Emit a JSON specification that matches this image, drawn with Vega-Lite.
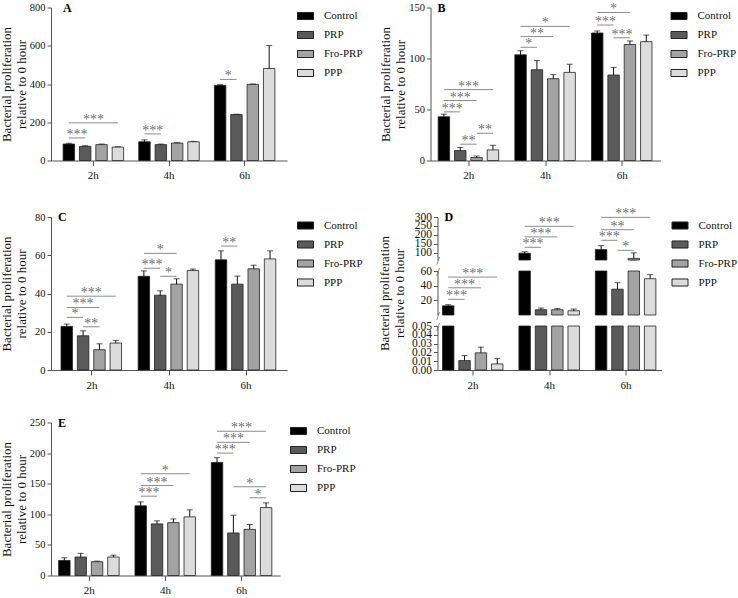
{
  "$schema": "https://vega.github.io/schema/vega-lite/v6.json",
  "padding": {"left": 0, "top": 1.5, "right": 0, "bottom": 0},
  "datasets": {
    "bars": [
      {"panel": "A", "time": "2h", "group": "Control", "value": 86, "err": 4},
      {"panel": "A", "time": "2h", "group": "PRP", "value": 74, "err": 3},
      {"panel": "A", "time": "2h", "group": "Fro-PRP", "value": 83, "err": 3},
      {"panel": "A", "time": "2h", "group": "PPP", "value": 70, "err": 1.5},
      {"panel": "A", "time": "4h", "group": "Control", "value": 98, "err": 10},
      {"panel": "A", "time": "4h", "group": "PRP", "value": 83, "err": 3},
      {"panel": "A", "time": "4h", "group": "Fro-PRP", "value": 91, "err": 2},
      {"panel": "A", "time": "4h", "group": "PPP", "value": 98, "err": 2},
      {"panel": "A", "time": "6h", "group": "Control", "value": 393, "err": 3},
      {"panel": "A", "time": "6h", "group": "PRP", "value": 240, "err": 2},
      {"panel": "A", "time": "6h", "group": "Fro-PRP", "value": 398, "err": 2},
      {"panel": "A", "time": "6h", "group": "PPP", "value": 481, "err": 120},
      {"panel": "B", "time": "2h", "group": "Control", "value": 42.9, "err": 2.5},
      {"panel": "B", "time": "2h", "group": "PRP", "value": 9.7, "err": 3},
      {"panel": "B", "time": "2h", "group": "Fro-PRP", "value": 2.9, "err": 1.5},
      {"panel": "B", "time": "2h", "group": "PPP", "value": 10.4, "err": 4.5},
      {"panel": "B", "time": "4h", "group": "Control", "value": 103.6, "err": 4},
      {"panel": "B", "time": "4h", "group": "PRP", "value": 89, "err": 9},
      {"panel": "B", "time": "4h", "group": "Fro-PRP", "value": 80.2, "err": 4},
      {"panel": "B", "time": "4h", "group": "PPP", "value": 86.4, "err": 8},
      {"panel": "B", "time": "6h", "group": "Control", "value": 125, "err": 2},
      {"panel": "B", "time": "6h", "group": "PRP", "value": 83.8, "err": 7.5},
      {"panel": "B", "time": "6h", "group": "Fro-PRP", "value": 113.7, "err": 3.5},
      {"panel": "B", "time": "6h", "group": "PPP", "value": 116.5, "err": 6.5},
      {"panel": "C", "time": "2h", "group": "Control", "value": 22.8, "err": 1.2},
      {"panel": "C", "time": "2h", "group": "PRP", "value": 17.9, "err": 2.6},
      {"panel": "C", "time": "2h", "group": "Fro-PRP", "value": 10.6, "err": 3.1},
      {"panel": "C", "time": "2h", "group": "PPP", "value": 14.1, "err": 1.4},
      {"panel": "C", "time": "4h", "group": "Control", "value": 49, "err": 2.8},
      {"panel": "C", "time": "4h", "group": "PRP", "value": 39.1, "err": 2.3},
      {"panel": "C", "time": "4h", "group": "Fro-PRP", "value": 44.9, "err": 2.8},
      {"panel": "C", "time": "4h", "group": "PPP", "value": 52, "err": 0.8},
      {"panel": "C", "time": "6h", "group": "Control", "value": 57.6, "err": 4.7},
      {"panel": "C", "time": "6h", "group": "PRP", "value": 44.9, "err": 4.2},
      {"panel": "C", "time": "6h", "group": "Fro-PRP", "value": 52.9, "err": 1.9},
      {"panel": "C", "time": "6h", "group": "PPP", "value": 58.1, "err": 4.2},
      {"panel": "D", "time": "2h", "group": "Control", "value": 12.5, "err": 1.5},
      {"panel": "D", "time": "2h", "group": "PRP", "value": 0.0107, "err": 0.0057},
      {"panel": "D", "time": "2h", "group": "Fro-PRP", "value": 0.0195, "err": 0.0065},
      {"panel": "D", "time": "2h", "group": "PPP", "value": 0.0069, "err": 0.006},
      {"panel": "D", "time": "4h", "group": "Control", "value": 98, "err": 8},
      {"panel": "D", "time": "4h", "group": "PRP", "value": 7.2, "err": 2.3},
      {"panel": "D", "time": "4h", "group": "Fro-PRP", "value": 7.2, "err": 1.8},
      {"panel": "D", "time": "4h", "group": "PPP", "value": 5.8, "err": 2.3},
      {"panel": "D", "time": "6h", "group": "Control", "value": 118, "err": 22},
      {"panel": "D", "time": "6h", "group": "PRP", "value": 35.2, "err": 8.8},
      {"panel": "D", "time": "6h", "group": "Fro-PRP", "value": 69, "err": 31},
      {"panel": "D", "time": "6h", "group": "PPP", "value": 49.5, "err": 5.5},
      {"panel": "E", "time": "2h", "group": "Control", "value": 24.6, "err": 4.4},
      {"panel": "E", "time": "2h", "group": "PRP", "value": 30.2, "err": 6},
      {"panel": "E", "time": "2h", "group": "Fro-PRP", "value": 22.5, "err": 1},
      {"panel": "E", "time": "2h", "group": "PPP", "value": 30.2, "err": 3},
      {"panel": "E", "time": "4h", "group": "Control", "value": 113.8, "err": 6.5},
      {"panel": "E", "time": "4h", "group": "PRP", "value": 84.3, "err": 5},
      {"panel": "E", "time": "4h", "group": "Fro-PRP", "value": 86.4, "err": 6},
      {"panel": "E", "time": "4h", "group": "PPP", "value": 95.8, "err": 11.5},
      {"panel": "E", "time": "6h", "group": "Control", "value": 184.8, "err": 7.7},
      {"panel": "E", "time": "6h", "group": "PRP", "value": 69.5, "err": 29},
      {"panel": "E", "time": "6h", "group": "Fro-PRP", "value": 75.4, "err": 8},
      {"panel": "E", "time": "6h", "group": "PPP", "value": 111, "err": 7.7}
    ],
    "sig": [
      {"panel": "A", "time": "2h", "from": "Control", "to": "PRP", "value": 118, "stars": "***", "at": "Control", "pos": "gap"},
      {"panel": "A", "time": "2h", "from": "Control", "to": "PPP", "value": 197, "stars": "***", "at": "PRP", "pos": "gap"},
      {"panel": "A", "time": "4h", "from": "Control", "to": "PRP", "value": 139, "stars": "***", "at": "Control", "pos": "gap"},
      {"panel": "A", "time": "6h", "from": "Control", "to": "PRP", "value": 424, "stars": "*", "at": "Control", "pos": "gap"},
      {"panel": "B", "time": "2h", "from": "Control", "to": "PRP", "value": 47.7, "stars": "***", "at": "Control", "pos": "gap"},
      {"panel": "B", "time": "2h", "from": "Control", "to": "Fro-PRP", "value": 58.8, "stars": "***", "at": "PRP", "pos": "on"},
      {"panel": "B", "time": "2h", "from": "Control", "to": "PPP", "value": 69.5, "stars": "***", "at": "PRP", "pos": "gap"},
      {"panel": "B", "time": "2h", "from": "PRP", "to": "Fro-PRP", "value": 16, "stars": "**", "at": "PRP", "pos": "gap"},
      {"panel": "B", "time": "2h", "from": "Fro-PRP", "to": "PPP", "value": 26.7, "stars": "**", "at": "Fro-PRP", "pos": "gap"},
      {"panel": "B", "time": "4h", "from": "Control", "to": "PRP", "value": 111, "stars": "*", "at": "Control", "pos": "gap"},
      {"panel": "B", "time": "4h", "from": "Control", "to": "Fro-PRP", "value": 121.5, "stars": "**", "at": "PRP", "pos": "on"},
      {"panel": "B", "time": "4h", "from": "Control", "to": "PPP", "value": 131.5, "stars": "*", "at": "PRP", "pos": "gap"},
      {"panel": "B", "time": "6h", "from": "Control", "to": "PRP", "value": 132.8, "stars": "***", "at": "Control", "pos": "gap"},
      {"panel": "B", "time": "6h", "from": "Control", "to": "Fro-PRP", "value": 145.1, "stars": "*", "at": "PRP", "pos": "on"},
      {"panel": "B", "time": "6h", "from": "PRP", "to": "Fro-PRP", "value": 120.3, "stars": "***", "at": "PRP", "pos": "gap"},
      {"panel": "C", "time": "2h", "from": "Control", "to": "PRP", "value": 27.5, "stars": "*", "at": "Control", "pos": "gap"},
      {"panel": "C", "time": "2h", "from": "Control", "to": "Fro-PRP", "value": 32.7, "stars": "***", "at": "PRP", "pos": "on"},
      {"panel": "C", "time": "2h", "from": "Control", "to": "PPP", "value": 38.6, "stars": "***", "at": "PRP", "pos": "gap"},
      {"panel": "C", "time": "2h", "from": "PRP", "to": "Fro-PRP", "value": 22.6, "stars": "**", "at": "PRP", "pos": "gap"},
      {"panel": "C", "time": "4h", "from": "Control", "to": "PRP", "value": 53.2, "stars": "***", "at": "Control", "pos": "gap"},
      {"panel": "C", "time": "4h", "from": "Control", "to": "Fro-PRP", "value": 61, "stars": "*", "at": "PRP", "pos": "on"},
      {"panel": "C", "time": "4h", "from": "PRP", "to": "Fro-PRP", "value": 49, "stars": "*", "at": "PRP", "pos": "gap"},
      {"panel": "C", "time": "6h", "from": "Control", "to": "PRP", "value": 64.8, "stars": "**", "at": "Control", "pos": "gap"},
      {"panel": "D", "time": "2h", "from": "Control", "to": "PRP", "value": 21.4, "stars": "***", "at": "Control", "pos": "gap"},
      {"panel": "D", "time": "2h", "from": "Control", "to": "Fro-PRP", "value": 37.1, "stars": "***", "at": "PRP", "pos": "on"},
      {"panel": "D", "time": "2h", "from": "Control", "to": "PPP", "value": 51.7, "stars": "***", "at": "PRP", "pos": "gap"},
      {"panel": "D", "time": "4h", "from": "Control", "to": "PRP", "value": 131, "stars": "***", "at": "Control", "pos": "gap"},
      {"panel": "D", "time": "4h", "from": "Control", "to": "Fro-PRP", "value": 189, "stars": "***", "at": "PRP", "pos": "on"},
      {"panel": "D", "time": "4h", "from": "Control", "to": "PPP", "value": 248, "stars": "***", "at": "PRP", "pos": "gap"},
      {"panel": "D", "time": "6h", "from": "Control", "to": "PRP", "value": 170, "stars": "***", "at": "Control", "pos": "gap"},
      {"panel": "D", "time": "6h", "from": "Control", "to": "Fro-PRP", "value": 229, "stars": "**", "at": "PRP", "pos": "on"},
      {"panel": "D", "time": "6h", "from": "Control", "to": "PPP", "value": 298, "stars": "***", "at": "PRP", "pos": "gap"},
      {"panel": "D", "time": "6h", "from": "PRP", "to": "Fro-PRP", "value": 114, "stars": "*", "at": "PRP", "pos": "gap"},
      {"panel": "E", "time": "4h", "from": "Control", "to": "PRP", "value": 129.6, "stars": "***", "at": "Control", "pos": "gap"},
      {"panel": "E", "time": "4h", "from": "Control", "to": "Fro-PRP", "value": 147, "stars": "***", "at": "PRP", "pos": "on"},
      {"panel": "E", "time": "4h", "from": "Control", "to": "PPP", "value": 166.3, "stars": "*", "at": "PRP", "pos": "gap"},
      {"panel": "E", "time": "6h", "from": "Control", "to": "PRP", "value": 200, "stars": "***", "at": "Control", "pos": "gap"},
      {"panel": "E", "time": "6h", "from": "Control", "to": "Fro-PRP", "value": 217.6, "stars": "***", "at": "PRP", "pos": "on"},
      {"panel": "E", "time": "6h", "from": "Control", "to": "PPP", "value": 235.7, "stars": "***", "at": "PRP", "pos": "gap"},
      {"panel": "E", "time": "6h", "from": "PRP", "to": "PPP", "value": 145, "stars": "*", "at": "Fro-PRP", "pos": "on"},
      {"panel": "E", "time": "6h", "from": "Fro-PRP", "to": "PPP", "value": 127, "stars": "*", "at": "Fro-PRP", "pos": "gap"}
    ]
  },
  "config": {
    "font": "Liberation Serif, Times New Roman, serif",
    "view": {"stroke": null},
    "axis": {
      "grid": false, "domainColor": "#555", "tickColor": "#555", "labelColor": "#111", "titleColor": "#111",
      "labelFont": "Liberation Serif, Times New Roman, serif", "titleFont": "Liberation Serif, Times New Roman, serif", "titleFontWeight": "normal",
      "labelFontSize": 10.5, "titleFontSize": 13, "titleLineHeight": 15, "tickSize": 4, "labelPadding": 2,
      "labelFlush": false, "labelOverlap": false
    },
    "axisX": {"labelFontSize": 11, "labelPadding": 4, "tickSize": 5, "labelAngle": 0},
    "legend": {
      "orient": "right", "offset": 10, "padding": 0, "symbolType": "M-1,-0.44H1V0.44H-1Z", "symbolSize": 256,
      "symbolStrokeWidth": 1, "symbolStrokeColor": "#222", "labelFont": "Liberation Serif, Times New Roman, serif", "labelFontSize": 11,
      "labelColor": "#111", "labelOffset": 10, "rowPadding": 4
    },
    "text": {"font": "Liberation Serif, Times New Roman, serif", "opacity": 0.99},
    "title": {"font": "Liberation Serif, Times New Roman, serif", "fontSize": 12, "fontWeight": "bold", "anchor": "start", "frame": "group", "color": "#000", "baseline": "top"}
  },
  "resolve": {"scale": {"color": "independent"}},
  "spacing": 26.5,
  "vconcat": [
    {
      "spacing": 15.5,
      "resolve": {"scale": {"color": "independent"}},
      "hconcat": [
        {
          "width": 236, "height": 153,
          "title": {"text": "A", "offset": -12, "dx": 12},
          "encoding": {
            "x": {"field": "time", "type": "nominal", "scale": {"domain": ["2h", "4h", "6h"], "paddingInner": 0.2, "paddingOuter": 0.16}, "axis": {"title": null}},
            "y": {"field": "value", "type": "quantitative", "scale": {"domain": [0, 800], "nice": false}, "axis": {"values": [0, 200, 400, 600, 800], "title": ["Bacterial proliferation", "relative to 0 hour"], "titlePadding": 0.5}}
          },
          "layer": [
            {
              "data": {"name": "bars"},
              "transform": [{"filter": "datum.panel === 'A'"}],
              "encoding": {"xOffset": {"field": "group", "type": "nominal", "scale": {"domain": ["Control", "PRP", "Fro-PRP", "PPP"], "paddingInner": 0.3, "paddingOuter": 0}}},
              "layer": [
                {"mark": {"type": "errorbar", "ticks": {"size": 6, "thickness": 1, "color": "#111"}, "rule": {"color": "#111", "strokeWidth": 1}},
                 "encoding": {"yError": {"field": "err"}}},
                {"mark": {"type": "bar", "stroke": "#222", "strokeWidth": 0.8},
                 "encoding": {"color": {"field": "group", "type": "nominal", "scale": {"domain": ["Control", "PRP", "Fro-PRP", "PPP"], "range": ["#000000", "#5a5a5a", "#a3a3a3", "#dcdcdc"]}, "legend": {"title": null}}}}
              ]
            },
            {
              "data": {"name": "sig"},
              "transform": [{"filter": "datum.panel === 'A'"}],
              "layer": [
                {"transform": [{"fold": ["from", "to"], "as": ["end", "grp"]}],
                 "mark": {"type": "line", "color": "#8c8c8c", "strokeWidth": 1},
                 "encoding": {"xOffset": {"field": "grp", "type": "nominal"}, "detail": [{"field": "time", "type": "nominal"}, {"field": "from", "type": "nominal"}, {"field": "to", "type": "nominal"}]}},
                {"transform": [{"filter": "datum.pos === 'on'"}],
                 "mark": {"type": "text", "fontSize": 14, "color": "#6e6e6e", "baseline": "alphabetic", "dy": 1},
                 "encoding": {"xOffset": {"field": "at", "type": "nominal"}, "text": {"field": "stars"}}},
                {"transform": [{"filter": "datum.pos === 'gap'"}],
                 "mark": {"type": "text", "fontSize": 14, "color": "#6e6e6e", "baseline": "alphabetic", "dy": 1, "dx": 8.2},
                 "encoding": {"xOffset": {"field": "at", "type": "nominal"}, "text": {"field": "stars"}}}
              ]
            }
          ]
        },
        {
          "width": 230, "height": 153,
          "title": {"text": "B", "offset": -13, "dx": 7},
          "encoding": {
            "x": {"field": "time", "type": "nominal", "scale": {"domain": ["2h", "4h", "6h"], "paddingInner": 0.2, "paddingOuter": 0.1}, "axis": {"title": null}},
            "y": {"field": "value", "type": "quantitative", "scale": {"domain": [0, 150], "nice": false}, "axis": {"values": [0, 50, 100, 150], "title": ["Bacterial proliferation", "relative to 0 hour"], "titlePadding": 1.5}}
          },
          "layer": [
            {
              "data": {"name": "bars"},
              "transform": [{"filter": "datum.panel === 'B'"}],
              "encoding": {"xOffset": {"field": "group", "type": "nominal", "scale": {"domain": ["Control", "PRP", "Fro-PRP", "PPP"], "paddingInner": 0.3, "paddingOuter": 0}}},
              "layer": [
                {"mark": {"type": "errorbar", "ticks": {"size": 6, "thickness": 1, "color": "#111"}, "rule": {"color": "#111", "strokeWidth": 1}},
                 "encoding": {"yError": {"field": "err"}}},
                {"mark": {"type": "bar", "stroke": "#222", "strokeWidth": 0.8},
                 "encoding": {"color": {"field": "group", "type": "nominal", "scale": {"domain": ["Control", "PRP", "Fro-PRP", "PPP"], "range": ["#000000", "#5a5a5a", "#a3a3a3", "#dcdcdc"]}, "legend": {"title": null}}}}
              ]
            },
            {
              "data": {"name": "sig"},
              "transform": [{"filter": "datum.panel === 'B'"}],
              "layer": [
                {"transform": [{"fold": ["from", "to"], "as": ["end", "grp"]}],
                 "mark": {"type": "line", "color": "#8c8c8c", "strokeWidth": 1},
                 "encoding": {"xOffset": {"field": "grp", "type": "nominal"}, "detail": [{"field": "time", "type": "nominal"}, {"field": "from", "type": "nominal"}, {"field": "to", "type": "nominal"}]}},
                {"transform": [{"filter": "datum.pos === 'on'"}],
                 "mark": {"type": "text", "fontSize": 14, "color": "#6e6e6e", "baseline": "alphabetic", "dy": 1},
                 "encoding": {"xOffset": {"field": "at", "type": "nominal"}, "text": {"field": "stars"}}},
                {"transform": [{"filter": "datum.pos === 'gap'"}],
                 "mark": {"type": "text", "fontSize": 14, "color": "#6e6e6e", "baseline": "alphabetic", "dy": 1, "dx": 8.3},
                 "encoding": {"xOffset": {"field": "at", "type": "nominal"}, "text": {"field": "stars"}}}
              ]
            }
          ]
        }
      ]
    },
    {
      "spacing": 15.5,
      "resolve": {"scale": {"color": "independent"}},
      "hconcat": [
        {
          "width": 236, "height": 153,
          "title": {"text": "C", "offset": -12, "dx": 7},
          "encoding": {
            "x": {"field": "time", "type": "nominal", "scale": {"domain": ["2h", "4h", "6h"], "paddingInner": 0.2, "paddingOuter": 0.13}, "axis": {"title": null}},
            "y": {"field": "value", "type": "quantitative", "scale": {"domain": [0, 80], "nice": false}, "axis": {"values": [0, 20, 40, 60, 80], "title": ["Bacterial proliferation", "relative to 0 hour"], "titlePadding": 6.5}}
          },
          "layer": [
            {
              "data": {"name": "bars"},
              "transform": [{"filter": "datum.panel === 'C'"}],
              "encoding": {"xOffset": {"field": "group", "type": "nominal", "scale": {"domain": ["Control", "PRP", "Fro-PRP", "PPP"], "paddingInner": 0.3, "paddingOuter": 0}}},
              "layer": [
                {"mark": {"type": "errorbar", "ticks": {"size": 6, "thickness": 1, "color": "#111"}, "rule": {"color": "#111", "strokeWidth": 1}},
                 "encoding": {"yError": {"field": "err"}}},
                {"mark": {"type": "bar", "stroke": "#222", "strokeWidth": 0.8},
                 "encoding": {"color": {"field": "group", "type": "nominal", "scale": {"domain": ["Control", "PRP", "Fro-PRP", "PPP"], "range": ["#000000", "#5a5a5a", "#a3a3a3", "#dcdcdc"]}, "legend": {"title": null}}}}
              ]
            },
            {
              "data": {"name": "sig"},
              "transform": [{"filter": "datum.panel === 'C'"}],
              "layer": [
                {"transform": [{"fold": ["from", "to"], "as": ["end", "grp"]}],
                 "mark": {"type": "line", "color": "#8c8c8c", "strokeWidth": 1},
                 "encoding": {"xOffset": {"field": "grp", "type": "nominal"}, "detail": [{"field": "time", "type": "nominal"}, {"field": "from", "type": "nominal"}, {"field": "to", "type": "nominal"}]}},
                {"transform": [{"filter": "datum.pos === 'on'"}],
                 "mark": {"type": "text", "fontSize": 14, "color": "#6e6e6e", "baseline": "alphabetic", "dy": 1},
                 "encoding": {"xOffset": {"field": "at", "type": "nominal"}, "text": {"field": "stars"}}},
                {"transform": [{"filter": "datum.pos === 'gap'"}],
                 "mark": {"type": "text", "fontSize": 14, "color": "#6e6e6e", "baseline": "alphabetic", "dy": 1, "dx": 8.2},
                 "encoding": {"xOffset": {"field": "at", "type": "nominal"}, "text": {"field": "stars"}}}
              ]
            }
          ]
        },
        {
          "spacing": 11,
          "bounds": "flush",
          "resolve": {"scale": {"color": "independent"}},
          "vconcat": [
            {
              "width": 224, "height": 43,
              "title": {"text": "D", "offset": -17, "dx": 7},
              "encoding": {
                "x": {"field": "time", "type": "nominal", "scale": {"domain": ["2h", "4h", "6h"], "paddingInner": 0.2, "paddingOuter": 0.065}, "axis": null},
                "y": {"field": "value", "type": "quantitative", "scale": {"domain": [60, 300], "nice": false, "zero": false, "clamp": true},
                      "axis": {"values": [60, 100, 150, 200, 250, 300], "title": null, "labelExpr": "datum.value === 60 ? '/' : datum.label",
                               "labelFontSize": {"condition": {"test": "datum.value === 60", "value": 13}, "value": 11.5},
                               "labelAlign": {"condition": {"test": "datum.value === 60", "value": "center"}, "value": "right"},
                               "labelPadding": {"condition": {"test": "datum.value === 60", "value": -4}, "value": 2},
                               "labelColor": {"condition": {"test": "datum.value === 60", "value": "#555"}, "value": "#111"},
                               "tickOpacity": {"condition": {"test": "datum.value === 60", "value": 0}, "value": 1}}}
              },
              "layer": [
                {
                  "data": {"name": "bars"},
                  "transform": [{"filter": "datum.panel === 'D' && datum.value > 60"}],
                  "encoding": {"xOffset": {"field": "group", "type": "nominal", "scale": {"domain": ["Control", "PRP", "Fro-PRP", "PPP"], "paddingInner": 0.3, "paddingOuter": 0}}},
                  "layer": [
                    {"mark": {"type": "errorbar", "ticks": {"size": 6, "thickness": 1, "color": "#111"}, "rule": {"color": "#111", "strokeWidth": 1}},
                     "encoding": {"yError": {"field": "err"}}},
                    {"mark": {"type": "bar", "stroke": "#222", "strokeWidth": 0.8},
                     "encoding": {"color": {"field": "group", "type": "nominal", "scale": {"domain": ["Control", "PRP", "Fro-PRP", "PPP"], "range": ["#000000", "#5a5a5a", "#a3a3a3", "#dcdcdc"]}, "legend": {"title": null, "offset": 10}}}}
                  ]
                },
                {
                  "data": {"name": "sig"},
                  "transform": [{"filter": "datum.panel === 'D' && datum.time !== '2h'"}],
                  "layer": [
                    {"transform": [{"fold": ["from", "to"], "as": ["end", "grp"]}],
                     "mark": {"type": "line", "color": "#8c8c8c", "strokeWidth": 1},
                     "encoding": {"xOffset": {"field": "grp", "type": "nominal"}, "detail": [{"field": "time", "type": "nominal"}, {"field": "from", "type": "nominal"}, {"field": "to", "type": "nominal"}]}},
                    {"transform": [{"filter": "datum.pos === 'on'"}],
                     "mark": {"type": "text", "fontSize": 14, "color": "#6e6e6e", "baseline": "alphabetic", "dy": 1},
                     "encoding": {"xOffset": {"field": "at", "type": "nominal"}, "text": {"field": "stars"}}},
                    {"transform": [{"filter": "datum.pos === 'gap'"}],
                     "mark": {"type": "text", "fontSize": 14, "color": "#6e6e6e", "baseline": "alphabetic", "dy": 1, "dx": 8.25},
                     "encoding": {"xOffset": {"field": "at", "type": "nominal"}, "text": {"field": "stars"}}}
                  ]
                }
              ]
            },
            {
              "width": 224, "height": 44,
              "encoding": {
                "x": {"field": "time", "type": "nominal", "scale": {"domain": ["2h", "4h", "6h"], "paddingInner": 0.2, "paddingOuter": 0.065}, "axis": null},
                "y": {"field": "value", "type": "quantitative", "scale": {"domain": [0, 60], "nice": false, "clamp": true},
                      "axis": {"values": [0, 20, 40, 59.99, 60], "format": ".0f", "title": ["Bacterial proliferation", "relative to 0 hour"], "titlePadding": 13.5,
                               "labelExpr": "(datum.value === 0 || datum.value === 59.99) ? '/' : datum.label",
                               "labelFontSize": {"condition": {"test": "datum.value === 0 || datum.value === 59.99", "value": 13}, "value": 11.5},
                               "labelAlign": {"condition": {"test": "datum.value === 0 || datum.value === 59.99", "value": "center"}, "value": "right"},
                               "labelPadding": {"condition": {"test": "datum.value === 0 || datum.value === 59.99", "value": -4}, "value": 2},
                               "labelColor": {"condition": {"test": "datum.value === 0 || datum.value === 59.99", "value": "#555"}, "value": "#111"},
                               "tickOpacity": {"condition": {"test": "datum.value === 0 || datum.value === 59.99", "value": 0}, "value": 1}}}
              },
              "layer": [
                {
                  "data": {"name": "bars"},
                  "transform": [{"filter": "datum.panel === 'D' && datum.value > 0.05"}],
                  "encoding": {"xOffset": {"field": "group", "type": "nominal", "scale": {"domain": ["Control", "PRP", "Fro-PRP", "PPP"], "paddingInner": 0.3, "paddingOuter": 0}}},
                  "layer": [
                    {"transform": [{"filter": "datum.value < 60"}],
                     "mark": {"type": "errorbar", "ticks": {"size": 6, "thickness": 1, "color": "#111"}, "rule": {"color": "#111", "strokeWidth": 1}},
                     "encoding": {"yError": {"field": "err"}}},
                    {"mark": {"type": "bar", "stroke": "#222", "strokeWidth": 0.8},
                     "encoding": {"color": {"field": "group", "type": "nominal", "scale": {"domain": ["Control", "PRP", "Fro-PRP", "PPP"], "range": ["#000000", "#5a5a5a", "#a3a3a3", "#dcdcdc"]}, "legend": null}}}
                  ]
                },
                {
                  "data": {"name": "sig"},
                  "transform": [{"filter": "datum.panel === 'D' && datum.time === '2h'"}],
                  "layer": [
                    {"transform": [{"fold": ["from", "to"], "as": ["end", "grp"]}],
                     "mark": {"type": "line", "color": "#8c8c8c", "strokeWidth": 1},
                     "encoding": {"xOffset": {"field": "grp", "type": "nominal"}, "detail": [{"field": "time", "type": "nominal"}, {"field": "from", "type": "nominal"}, {"field": "to", "type": "nominal"}]}},
                    {"transform": [{"filter": "datum.pos === 'on'"}],
                     "mark": {"type": "text", "fontSize": 14, "color": "#6e6e6e", "baseline": "alphabetic", "dy": 1},
                     "encoding": {"xOffset": {"field": "at", "type": "nominal"}, "text": {"field": "stars"}}},
                    {"transform": [{"filter": "datum.pos === 'gap'"}],
                     "mark": {"type": "text", "fontSize": 14, "color": "#6e6e6e", "baseline": "alphabetic", "dy": 1, "dx": 8.25},
                     "encoding": {"xOffset": {"field": "at", "type": "nominal"}, "text": {"field": "stars"}}}
                  ]
                }
              ]
            },
            {
              "width": 224, "height": 44,
              "data": {"name": "bars"},
              "transform": [{"filter": "datum.panel === 'D'"}],
              "encoding": {
                "x": {"field": "time", "type": "nominal", "scale": {"domain": ["2h", "4h", "6h"], "paddingInner": 0.2, "paddingOuter": 0.065}, "axis": {"title": null}},
                "xOffset": {"field": "group", "type": "nominal", "scale": {"domain": ["Control", "PRP", "Fro-PRP", "PPP"], "paddingInner": 0.3, "paddingOuter": 0}},
                "y": {"field": "value", "type": "quantitative", "scale": {"domain": [0, 0.05], "nice": false, "clamp": true},
                      "axis": {"values": [0, 0.01, 0.02, 0.03, 0.04, 0.0499, 0.05], "format": ".2f", "title": null,
                               "labelExpr": "datum.value === 0.0499 ? '/' : datum.label",
                               "labelFontSize": {"condition": {"test": "datum.value === 0.0499", "value": 13}, "value": 11.5},
                               "labelAlign": {"condition": {"test": "datum.value === 0.0499", "value": "center"}, "value": "right"},
                               "labelPadding": {"condition": {"test": "datum.value === 0.0499", "value": -4}, "value": 2},
                               "labelColor": {"condition": {"test": "datum.value === 0.0499", "value": "#555"}, "value": "#111"},
                               "tickOpacity": {"condition": {"test": "datum.value === 0.0499", "value": 0}, "value": 1}}}
              },
              "layer": [
                {"transform": [{"filter": "datum.value < 0.05"}],
                 "mark": {"type": "errorbar", "ticks": {"size": 6, "thickness": 1, "color": "#111"}, "rule": {"color": "#111", "strokeWidth": 1}},
                 "encoding": {"yError": {"field": "err"}}},
                {"mark": {"type": "bar", "stroke": "#222", "strokeWidth": 0.8},
                 "encoding": {"color": {"field": "group", "type": "nominal", "scale": {"domain": ["Control", "PRP", "Fro-PRP", "PPP"], "range": ["#000000", "#5a5a5a", "#a3a3a3", "#dcdcdc"]}, "legend": null}}}
              ]
            }
          ]
        }
      ]
    },
    {
      "spacing": 15.5,
      "resolve": {"scale": {"color": "independent"}},
      "hconcat": [
        {
          "width": 229, "height": 153,
          "title": {"text": "E", "offset": -12, "dx": 7},
          "encoding": {
            "x": {"field": "time", "type": "nominal", "scale": {"domain": ["2h", "4h", "6h"], "paddingInner": 0.2, "paddingOuter": 0.1}, "axis": {"title": null}},
            "y": {"field": "value", "type": "quantitative", "scale": {"domain": [0, 250], "nice": false}, "axis": {"values": [0, 50, 100, 150, 200, 250], "title": ["Bacterial proliferation", "relative to 0 hour"], "titlePadding": 1.25}}
          },
          "layer": [
            {
              "data": {"name": "bars"},
              "transform": [{"filter": "datum.panel === 'E'"}],
              "encoding": {"xOffset": {"field": "group", "type": "nominal", "scale": {"domain": ["Control", "PRP", "Fro-PRP", "PPP"], "paddingInner": 0.3, "paddingOuter": 0}}},
              "layer": [
                {"mark": {"type": "errorbar", "ticks": {"size": 6, "thickness": 1, "color": "#111"}, "rule": {"color": "#111", "strokeWidth": 1}},
                 "encoding": {"yError": {"field": "err"}}},
                {"mark": {"type": "bar", "stroke": "#222", "strokeWidth": 0.8},
                 "encoding": {"color": {"field": "group", "type": "nominal", "scale": {"domain": ["Control", "PRP", "Fro-PRP", "PPP"], "range": ["#000000", "#5a5a5a", "#a3a3a3", "#dcdcdc"]}, "legend": {"title": null}}}}
              ]
            },
            {
              "data": {"name": "sig"},
              "transform": [{"filter": "datum.panel === 'E'"}],
              "layer": [
                {"transform": [{"fold": ["from", "to"], "as": ["end", "grp"]}],
                 "mark": {"type": "line", "color": "#8c8c8c", "strokeWidth": 1},
                 "encoding": {"xOffset": {"field": "grp", "type": "nominal"}, "detail": [{"field": "time", "type": "nominal"}, {"field": "from", "type": "nominal"}, {"field": "to", "type": "nominal"}]}},
                {"transform": [{"filter": "datum.pos === 'on'"}],
                 "mark": {"type": "text", "fontSize": 14, "color": "#6e6e6e", "baseline": "alphabetic", "dy": 1},
                 "encoding": {"xOffset": {"field": "at", "type": "nominal"}, "text": {"field": "stars"}}},
                {"transform": [{"filter": "datum.pos === 'gap'"}],
                 "mark": {"type": "text", "fontSize": 14, "color": "#6e6e6e", "baseline": "alphabetic", "dy": 1, "dx": 8.2},
                 "encoding": {"xOffset": {"field": "at", "type": "nominal"}, "text": {"field": "stars"}}}
              ]
            }
          ]
        }
      ]
    }
  ]
}
